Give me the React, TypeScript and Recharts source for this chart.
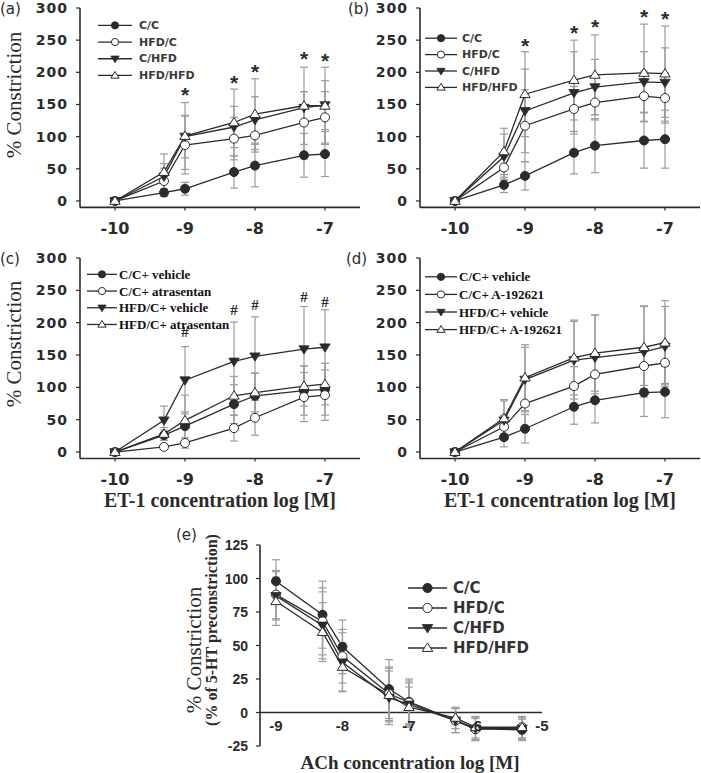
import React from 'react';
import { ComposedChart, Line, XAxis, YAxis, ErrorBar, Legend, ReferenceLine, Label } from 'recharts';

// ---------- data ----------
const etConc = [-10, -9.3, -9, -8.3, -8, -7.3, -7];
const etTicks = [-10, -9, -8, -7];
const constrictionTicks = [0, 50, 100, 150, 200, 250, 300];
const achConc = [-9, -8.3, -8, -7.3, -7, -6.3, -6, -5.3];
const achTicks = [-9, -8, -7, -6, -5];
const relaxTicks = [-25, 0, 25, 50, 75, 100, 125];

const namesDiet = ['C/C', 'HFD/C', 'C/HFD', 'HFD/HFD'];
const namesAtrasentan = ['C/C+ vehicle', 'C/C+ atrasentan', 'HFD/C+ vehicle', 'HFD/C+ atrasentan'];
const namesA192621 = ['C/C+ vehicle', 'C/C+ A-192621', 'HFD/C+ vehicle', 'HFD/C+ A-192621'];

// (a)
const aCC = [0, 13, 19, 45, 55, 71, 73];
const aCCErr = [0, 6, 10, 25, 33, 34, 35];
const aHC = [0, 31, 87, 97, 102, 122, 130];
const aHCErr = [0, 20, 45, 33, 26, 48, 40];
const aCH = [0, 38, 100, 115, 126, 145, 149];
const aCHErr = [0, 20, 33, 32, 36, 25, 38];
const aHH = [0, 45, 101, 122, 135, 148, 148];
const aHHErr = [0, 28, 52, 52, 55, 60, 60];
const aStars = [null, null, 173, 191, 208, 228, 226];

// (b)
const bCC = [0, 25, 39, 75, 86, 94, 96];
const bCCErr = [0, 12, 22, 33, 42, 43, 45];
const bHC = [0, 52, 117, 143, 153, 163, 160];
const bHCErr = [0, 20, 56, 35, 27, 39, 39];
const bCH = [0, 69, 140, 168, 177, 185, 184];
const bCHErr = [0, 35, 65, 64, 43, 47, 54];
const bHH = [0, 77, 166, 188, 196, 199, 198];
const bHHErr = [0, 36, 66, 62, 62, 76, 74];
const bStars = [null, null, 248, 269, 278, 294, 291];

// (c)
const cCV = [0, 26, 40, 74, 87, 95, 97];
const cCVErr = [0, 8, 22, 30, 35, 38, 40];
const cCA = [0, 8, 14, 37, 53, 85, 88];
const cCAErr = [0, 4, 8, 20, 27, 38, 39];
const cHV = [0, 49, 111, 140, 148, 159, 162];
const cHVErr = [0, 22, 52, 61, 61, 66, 58];
const cHA = [0, 28, 49, 87, 92, 102, 105];
const cHAErr = [0, 10, 39, 30, 30, 31, 32];
const cHashes = [null, null, 186, 220, 228, 240, 232];

// (d)
const dCV = [0, 23, 36, 70, 80, 92, 93];
const dCVErr = [0, 15, 22, 27, 35, 37, 40];
const dCA = [0, 39, 75, 102, 120, 133, 138];
const dCAErr = [0, 18, 40, 30, 30, 30, 32];
const dHV = [0, 49, 112, 142, 146, 155, 163];
const dHVErr = [0, 30, 50, 60, 66, 70, 62];
const dHA = [0, 52, 115, 146, 153, 162, 169];
const dHAErr = [0, 29, 51, 58, 59, 64, 65];

// (e)
const eCC = [98, 73, 49, 17.5, 8, -6, -12, -13];
const eCCErr = [16, 25, 20, 22, 17, 9, 9, 8];
const eHC = [88, 68, 42, 14, 7.5, -6, -12.5, -11];
const eHCErr = [18, 25, 20, 20, 16, 9, 8, 8];
const eCH = [87, 65, 37.5, 11, 6, -6, -12, -12];
const eCHErr = [18, 25, 22, 20, 16, 9, 8, 8];
const eHH = [83, 60, 34, 13, 4, -4, -11, -11];
const eHHErr = [18, 22, 18, 20, 15, 8, 8, 8];

// ---------- styling ----------
const INK = '#2b2b2b';
const ERR = '#9c9c9c';
const SANS_WIDE = 'DejaVu Sans';
const SANS = 'Liberation Sans';
const SERIF = '"Liberation Serif", "DejaVu Serif", serif';

type Shape = 'fc' | 'oc' | 'fd' | 'ou';
const shapes: Shape[] = ['fc', 'oc', 'fd', 'ou'];

function Marker({ cx, cy, shape, size }: { cx: any; cy: any; shape: Shape; size: number }) {
  if (cx == null || cy == null || isNaN(cx) || isNaN(cy)) return <g />;
  const s = size;
  if (shape === 'fc') return <circle cx={cx} cy={cy} r={s} fill={INK} stroke={INK} strokeWidth={1} />;
  if (shape === 'oc') return <circle cx={cx} cy={cy} r={s} fill="#fff" stroke={INK} strokeWidth={1} />;
  if (shape === 'fd')
    return (
      <polygon
        points={`${cx - s * 1.15},${cy - s * 0.75} ${cx + s * 1.15},${cy - s * 0.75} ${cx},${cy + s * 1.1}`}
        fill={INK}
        stroke={INK}
        strokeWidth={0.8}
      />
    );
  return (
    <polygon
      points={`${cx},${cy - s * 1.1} ${cx - s * 1.15},${cy + s * 0.75} ${cx + s * 1.15},${cy + s * 0.75}`}
      fill="#fff"
      stroke={INK}
      strokeWidth={1}
    />
  );
}

type Font = { family: string; size: number; weight?: string; spacing?: number; fill?: string };

type Series = { name: string; values: number[]; errors: number[]; shape: Shape };

function makeSeries(names: string[], vals: number[][], errs: number[][]): Series[] {
  return names.map((n, i) => ({ name: n, values: vals[i], errors: errs[i], shape: shapes[i] }));
}

type LegendCfg = {
  left: number;
  top: number;
  lineW: number;
  gap: number;
  rowH: number;
  font: Font;
  marker: number;
};

function LegendBox({ series, cfg }: { series: Series[]; cfg: LegendCfg }) {
  const w = cfg.lineW + cfg.gap + 170;
  const h = cfg.rowH * series.length;
  return (
    <svg width={w} height={h} style={{ display: 'block', overflow: 'visible' }}>
      {series.map((s, i) => {
        const y = cfg.rowH * (i + 0.5);
        return (
          <g key={i}>
            <line x1={0} x2={cfg.lineW} y1={y} y2={y} stroke={INK} strokeWidth={1.3} />
            <Marker cx={cfg.lineW / 2} cy={y} shape={s.shape} size={cfg.marker} />
            <text
              x={cfg.lineW + cfg.gap}
              y={y}
              dominantBaseline="central"
              style={{ fontFamily: cfg.font.family, fontSize: cfg.font.size, fontWeight: cfg.font.weight || 'bold' }}
              fill={cfg.font.fill || INK}
            >
              {s.name}
            </text>
          </g>
        );
      })}
    </svg>
  );
}

type PanelProps = {
  left: number;
  top: number;
  width: number;
  height: number;
  mt: number;
  mr: number;
  plotH: number;
  yW: number;
  x: number[];
  xDomain: [number, number];
  xTicks: number[];
  yDomain: [number, number];
  yTicks: number[];
  series: Series[];
  marks?: (number | null)[];
  markChar?: string;
  markFont?: Font;
  markShift?: number;
  legend: LegendCfg;
  xFont: Font;
  yFont: Font;
  letter: string;
  letterPos: [number, number];
  letterFont: Font;
  yTitles?: { text: string; x: number; y: number; font: Font }[];
  xTitle?: { text: string; x: number; y: number; font: Font };
  zeroAxis?: boolean;
};

function Panel(p: PanelProps) {
  const rows = p.x.map((xv, i) => {
    const r: any = { x: xv };
    p.series.forEach((s, j) => {
      r['s' + j] = s.values[i];
      r['e' + j] = s.errors[i];
    });
    if (p.marks) r.mark = p.marks[i];
    return r;
  });
  const xAxisH = p.height - p.mt - p.plotH;
  const zeroY = p.mt + (p.plotH * (p.yDomain[1] - 0)) / (p.yDomain[1] - p.yDomain[0]);

  const xTick = (t: any) => (
    <text
      x={t.x}
      y={p.zeroAxis ? zeroY + 8 : t.y}
      dy="0.71em"
      textAnchor="middle"
      fontFamily={p.xFont.family}
      fontSize={p.xFont.size}
      fontWeight="bold"
      letterSpacing={p.xFont.spacing || 0}
      fill={INK}
    >
      {t.payload.value}
    </text>
  );
  const yTick = (t: any) => (
    <text
      x={t.x}
      y={t.y}
      textAnchor="end"
      dominantBaseline="central"
      fontFamily={p.yFont.family}
      fontSize={p.yFont.size}
      fontWeight="bold"
      letterSpacing={p.yFont.spacing || 0}
      fill={INK}
    >
      {t.payload.value}
    </text>
  );

  const yLabel = () => (
    <g>
      <text
        x={p.letterPos[0]}
        y={p.letterPos[1]}
        dominantBaseline="central"
        fontFamily={p.letterFont.family}
        fontSize={p.letterFont.size}
        fill={INK}
      >
        {p.letter}
      </text>
      {(p.yTitles || []).map((t, i) => (
        <text
          key={i}
          transform={`translate(${t.x},${t.y}) rotate(-90)`}
          textAnchor="middle"
          dominantBaseline="central"
          style={{ fontFamily: t.font.family, fontSize: t.font.size, fontWeight: t.font.weight || 'normal' }}
          fill={INK}
        >
          {t.text}
        </text>
      ))}
    </g>
  );
  const xLabel = () =>
    p.xTitle ? (
      <text
        x={p.xTitle.x}
        y={p.xTitle.y}
        textAnchor="middle"
        dominantBaseline="central"
        style={{ fontFamily: p.xTitle.font.family, fontSize: p.xTitle.font.size, fontWeight: p.xTitle.font.weight || 'bold' }}
        fill={INK}
      >
        {p.xTitle.text}
      </text>
    ) : (
      <g />
    );

  const markDot = (d: any) => {
    if (d.value == null || d.cy == null || isNaN(d.cy)) return <g key={'k' + d.index} />;
    const f = p.markFont as Font;
    return (
      <text
        key={'k' + d.index}
        x={d.cx}
        y={d.cy + (p.markShift || 0)}
        textAnchor="middle"
        style={{ fontFamily: f.family, fontSize: f.size, fontWeight: f.weight || 'normal' }}
        fill={INK}
      >
        {p.markChar}
      </text>
    );
  };

  return (
    <div style={{ position: 'absolute', left: p.left, top: p.top }}>
      <ComposedChart
        width={p.width}
        height={p.height}
        data={rows}
        margin={{ top: p.mt, right: p.mr, bottom: 0, left: 0 }}
      >
        <XAxis
          type="number"
          dataKey="x"
          domain={p.xDomain}
          ticks={p.xTicks}
          interval={0}
          allowDataOverflow
          height={xAxisH}
          axisLine={p.zeroAxis ? false : { stroke: INK, strokeWidth: 1.6 }}
          tickLine={p.zeroAxis ? false : { stroke: INK, strokeWidth: 1.2 }}
          tickSize={3}
          tickMargin={12.6}
          tick={xTick}
        >
          <Label content={xLabel} />
        </XAxis>
        <YAxis
          type="number"
          domain={p.yDomain}
          ticks={p.yTicks}
          interval={0}
          allowDataOverflow
          width={p.yW}
          axisLine={{ stroke: INK, strokeWidth: 1.6 }}
          tickLine={{ stroke: INK, strokeWidth: 1.2 }}
          tickSize={4}
          tickMargin={8}
          tick={yTick}
        >
          <Label content={yLabel} />
        </YAxis>
        {p.zeroAxis && <ReferenceLine y={0} stroke={INK} strokeWidth={1.6} />}
        {p.series.map((s, j) => (
          <Line
            key={j}
            dataKey={'s' + j}
            name={s.name}
            stroke={INK}
            strokeWidth={1.3}
            dot={(d: any) => <Marker key={'m' + j + '-' + d.index} cx={d.cx} cy={d.cy} shape={s.shape} size={4.5} />}
            activeDot={false}
            isAnimationActive={false}
          >
            <ErrorBar dataKey={'e' + j} width={4} stroke={ERR} strokeWidth={1.2} direction="y" />
          </Line>
        ))}
        {p.marks && (
          <Line
            dataKey="mark"
            stroke="none"
            strokeWidth={0}
            dot={markDot}
            activeDot={false}
            legendType="none"
            isAnimationActive={false}
          />
        )}
        <Legend
          layout="horizontal"
          verticalAlign="middle"
          align="center"
          wrapperStyle={{ left: p.legend.left, top: p.legend.top, width: 'auto' }}
          content={() => <LegendBox series={p.series} cfg={p.legend} />}
        />
      </ComposedChart>
    </div>
  );
}

const xTickFont: Font = { family: SANS_WIDE, size: 16 };
const yTickFont: Font = { family: SANS_WIDE, size: 14, spacing: 1 };
const letterFont: Font = { family: SANS_WIDE, size: 15 };
const yTitleFont: Font = { family: SERIF, size: 21 };
const xTitleFont: Font = { family: SERIF, size: 20, weight: 'bold' };
const legendSans: Font = { family: SANS_WIDE, size: 11, fill: '#3a3a3a' };
const legendSerif: Font = { family: SERIF, size: 13, fill: '#111' };
const starFont: Font = { family: SANS, size: 21, weight: 'bold' };
const hashFont: Font = { family: SERIF, size: 15, weight: 'bold' };

export default function App() {
  const topCommon = {
    top: 0,
    width: 360,
    height: 250,
    mt: 8,
    mr: 0,
    plotH: 199.4,
    yW: 80,
    x: etConc,
    xDomain: [-10.5, -6.5] as [number, number],
    xTicks: etTicks,
    yDomain: [-10, 300] as [number, number],
    yTicks: constrictionTicks,
    xFont: xTickFont,
    yFont: yTickFont,
    letterFont,
  };
  const botCommon = { ...topCommon, top: 250, height: 270, plotH: 200.5 };

  return (
    <div style={{ position: 'absolute', left: 0, top: 0, width: 701, height: 773, background: '#fff', overflow: 'hidden' }}>
      <Panel
        {...topCommon}
        left={0}
        series={makeSeries(namesDiet, [aCC, aHC, aCH, aHH], [aCCErr, aHCErr, aCHErr, aHHErr])}
        marks={aStars}
        markChar="*"
        markFont={starFont}
        markShift={12}
        legend={{ left: 98, top: 16.6, lineW: 34, gap: 7, rowH: 16.7, font: legendSans, marker: 3.6 }}
        letter="(a)"
        letterPos={[0, 9]}
        yTitles={[{ text: '% Constriction', x: 14, y: 95, font: yTitleFont }]}
      />
      <Panel
        {...topCommon}
        left={340}
        series={makeSeries(namesDiet, [bCC, bHC, bCH, bHH], [bCCErr, bHCErr, bCHErr, bHHErr])}
        marks={bStars}
        markChar="*"
        markFont={starFont}
        markShift={12}
        legend={{ left: 85, top: 29.8, lineW: 32, gap: 5, rowH: 16.4, font: legendSans, marker: 3.6 }}
        letter="(b)"
        letterPos={[8, 9]}
      />
      <Panel
        {...botCommon}
        left={0}
        series={makeSeries(namesAtrasentan, [cCV, cCA, cHV, cHA], [cCVErr, cCAErr, cHVErr, cHAErr])}
        marks={cHashes}
        markChar="#"
        markFont={hashFont}
        markShift={5}
        legend={{ left: 87, top: 15.6, lineW: 30, gap: 2, rowH: 16.7, font: legendSerif, marker: 3.6 }}
        letter="(c)"
        letterPos={[0, 9]}
        yTitles={[{ text: '% Constriction', x: 14, y: 94, font: yTitleFont }]}
        xTitle={{ text: 'ET-1 concentration log [M]', x: 220, y: 250, font: xTitleFont }}
      />
      <Panel
        {...botCommon}
        left={340}
        series={makeSeries(namesA192621, [dCV, dCA, dHV, dHA], [dCVErr, dCAErr, dHVErr, dHAErr])}
        legend={{ left: 85, top: 18.2, lineW: 32, gap: 2, rowH: 17.6, font: legendSerif, marker: 3.6 }}
        letter="(d)"
        letterPos={[6, 9]}
        xTitle={{ text: 'ET-1 concentration log [M]', x: 220, y: 250, font: xTitleFont }}
      />
      <Panel
        left={170}
        top={520}
        width={390}
        height={253}
        mt={25}
        mr={18}
        plotH={201}
        yW={90}
        x={achConc}
        xDomain={[-9.24, -5]}
        xTicks={achTicks}
        yDomain={[-25, 125]}
        yTicks={relaxTicks}
        xFont={{ family: SANS, size: 15 }}
        yFont={{ family: SANS, size: 14 }}
        letterFont={letterFont}
        zeroAxis
        series={makeSeries(namesDiet, [eCC, eHC, eCH, eHH], [eCCErr, eHCErr, eCHErr, eHHErr])}
        legend={{ left: 238, top: 58, lineW: 39, gap: 6, rowH: 20, font: { family: SANS_WIDE, size: 15, fill: '#333' }, marker: 4.6 }}
        letter="(e)"
        letterPos={[6, 15]}
        yTitles={[
          { text: '% Constriction', x: 24, y: 130, font: { family: SERIF, size: 21 } },
          { text: '(% of 5-HT preconstriction)', x: 41, y: 110, font: { family: SERIF, size: 16, weight: 'bold' } },
        ]}
        xTitle={{ text: 'ACh concentration log [M]', x: 240, y: 242, font: { family: SERIF, size: 19, weight: 'bold' } }}
      />
    </div>
  );
}
